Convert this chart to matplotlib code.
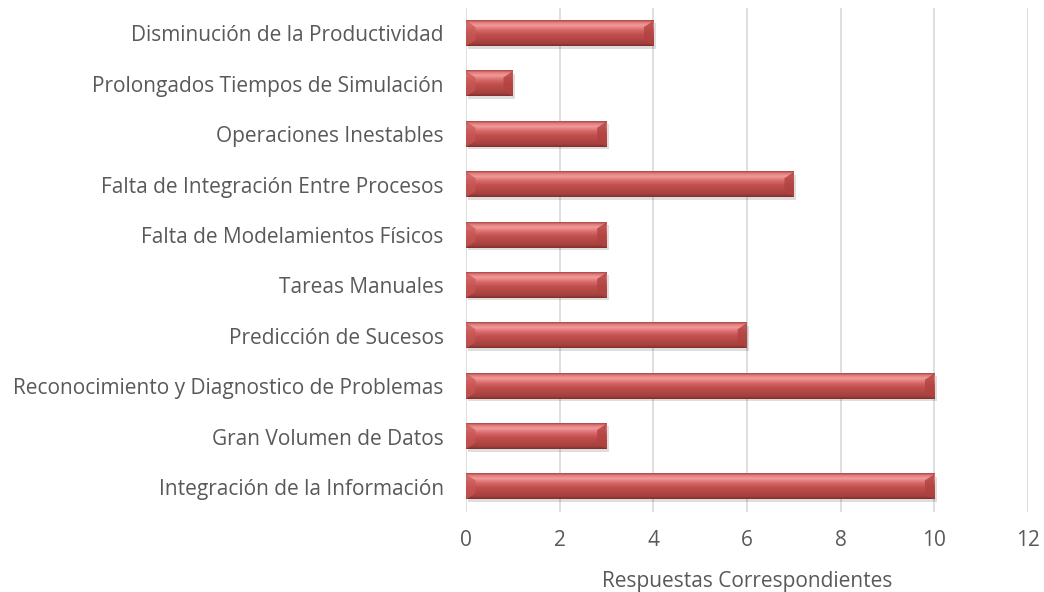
import matplotlib
matplotlib.use("Agg")
import matplotlib.pyplot as plt
from matplotlib.colors import LinearSegmentedColormap
import numpy as np

categorias = [
    "Integración de la Información",
    "Gran Volumen de Datos",
    "Reconocimiento y Diagnostico de Problemas",
    "Predicción de Sucesos",
    "Tareas Manuales",
    "Falta de Modelamientos Físicos",
    "Falta de Integración Entre Procesos",
    "Operaciones Inestables",
    "Prolongados Tiempos de Simulación",
    "Disminución de la Productividad",
]
respuestas = [10, 3, 10, 6, 3, 3, 7, 3, 1, 4]
ticks_x = [0, 2, 4, 6, 8, 10, 12]

plt.rcParams['font.family'] = ['Open Sans', 'DejaVu Sans']
gris = "#595959"

fig = plt.figure(figsize=(10.44, 5.92), dpi=100)
ax = fig.add_axes([0.4464, 0.135, 0.5383, 0.851])

y = np.arange(len(categorias))
alto = 0.5

# degradado vertical de la barra (abajo -> arriba)
cmap = LinearSegmentedColormap.from_list("bisel", [
    (0.0, "#7E2E2C"), (0.1, "#A5403E"), (0.45, "#C0504D"),
    (0.62, "#D8686A"), (0.8, "#F29A99"), (0.92, "#E07C7B"), (1.0, "#A84846"),
])
grad = np.linspace(0, 1, 64).reshape(-1, 1)

for yi, v in zip(y, respuestas):
    # sombra
    ax.barh(yi - 0.05, v, height=alto, left=0.05, color="#000000", alpha=0.13,
            linewidth=0, zorder=2)
    ax.imshow(grad, cmap=cmap, origin="lower", aspect="auto", interpolation="bilinear",
              extent=[0, v, yi - alto / 2, yi + alto / 2], zorder=3)
    # bisel en los extremos
    dx, dy = 0.2, 0.12
    y0, y1 = yi - alto / 2, yi + alto / 2
    ax.fill([v - dx, v, v, v - dx], [y0 + dy, y0, y1, y1 - dy],
            color="#B04240", alpha=0.8, linewidth=0, zorder=4)
    ax.fill([0, dx, dx, 0], [y0, y0 + dy, y1 - dy, y1],
            color="#C85654", alpha=0.7, linewidth=0, zorder=4)

ax.set_xlim(0, 12)
ax.set_ylim(-0.5, len(categorias) - 0.5)
ax.set_xticks(ticks_x)
ax.set_yticks(y)
ax.set_yticklabels(categorias)
ax.tick_params(axis="both", length=0, colors=gris, labelsize=15)
ax.tick_params(axis="x", pad=13)
ax.tick_params(axis="y", pad=16)
ax.grid(axis="x", color="#D9D9D9", linewidth=1.2, zorder=0)
ax.set_axisbelow(True)
for s in ax.spines.values():
    s.set_visible(False)

ax.set_xlabel("Respuestas Correspondientes", color=gris, fontsize=15, labelpad=14)

fig.savefig("out.png", dpi=100)
